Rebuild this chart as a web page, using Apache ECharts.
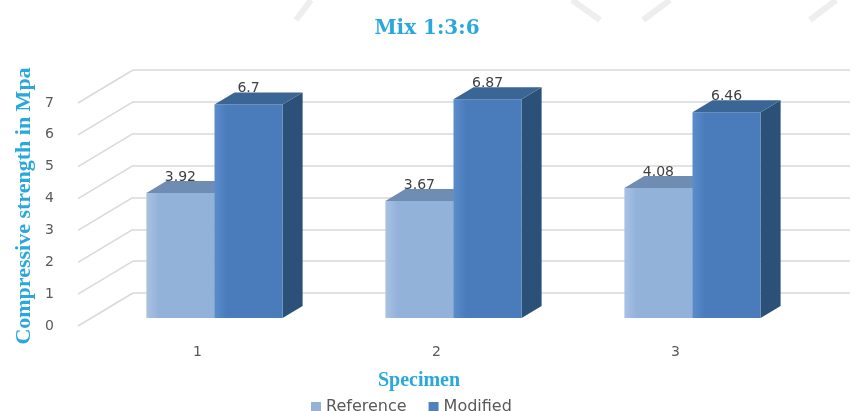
<!DOCTYPE html>
<html><head><meta charset="utf-8">
<script src="https://cdn.jsdelivr.net/npm/echarts@6/dist/echarts.min.js"></script>
<style>html,body{margin:0;padding:0;background:#fff}#c{width:854px;height:411px}</style>
</head><body><div id="c"></div>
<script>
// ---- data ----
const categories = ['1', '2', '3'];
const referenceValues = [3.92, 3.67, 4.08];
const modifiedValues = [6.7, 6.87, 6.46];
const yTicks = [0, 1, 2, 3, 4, 5, 6, 7];
const seriesNames = ['Reference', 'Modified'];
const titleText = 'Mix 1:3:6';
const yTitle = 'Compressive strength in Mpa';
const xTitle = 'Specimen';

// ---- styling ----
const WALL_DX = 55, WALL_DY = -33;
const BAR_DX = 20, BAR_DY = -12;
const CYAN = '#2aa8de';
const GRID_COLOR = '#d9d9d9';
const faceStyles = [
  { front: ['#a9c2e3', '#93b2da'], top: '#6f8cb3', side: '#5d7ca5', legend: '#95b3d7' },
  { front: ['#5b8dcc', '#4a7cbc'], top: '#3a6594', side: '#2c5178', legend: '#4f81bd' }
];

function barRenderer(si) {
  return function (params, api) {
    const cat = api.value(0), v = api.value(1);
    const base = api.coord([cat, 0]);
    const top = api.coord([cat, v]);
    const band = api.size([1, 0])[0];
    const w = band * 0.285;
    const x0 = base[0] - w + si * w;
    const x1 = x0 + w;
    const yb = base[1], yt = top[1];
    const fs = faceStyles[si];
    return {
      type: 'group',
      children: [
        { type: 'polygon', shape: { points: [[x1, yt], [x1 + BAR_DX, yt + BAR_DY], [x1 + BAR_DX, yb + BAR_DY], [x1, yb]] },
          style: { fill: fs.side } },
        { type: 'rect', shape: { x: x0, y: yt, width: w, height: yb - yt },
          style: { fill: new echarts.graphic.LinearGradient(0, 0, 1, 0, [
            { offset: 0, color: fs.front[0] }, { offset: 0.18, color: fs.front[1] }, { offset: 1, color: fs.front[1] }]) } },
        { type: 'polygon', shape: { points: [[x0, yt], [x1, yt], [x1 + BAR_DX, yt + BAR_DY], [x0 + BAR_DX, yt + BAR_DY]] },
          style: { fill: fs.top } },
        { type: 'text', x: (x0 + x1) / 2, y: yt + BAR_DY + 3,
          style: { text: String(v), align: 'center', verticalAlign: 'bottom',
                   fill: '#404040', font: '14px "DejaVu Sans"' } }
      ]
    };
  };
}

function wallRenderer(params, api) {
  const v = api.value(1);
  const p = api.coord([0, v]);
  return {
    type: 'line',
    shape: { x1: p[0], y1: p[1], x2: p[0] - WALL_DX, y2: p[1] - WALL_DY },
    style: { stroke: GRID_COLOR, lineWidth: 1.5 }
  };
}

const chart = echarts.init(document.getElementById('c'));
chart.setOption({
  backgroundColor: '#ffffff',
  animation: false,
  title: {
    text: titleText, left: 'center', top: 19, padding: 0,
    textStyle: { fontFamily: 'DejaVu Serif', fontWeight: 'bold', fontSize: 20, color: CYAN }
  },
  legend: {
    data: seriesNames, left: 306, top: 394, itemWidth: 10, itemHeight: 10, itemGap: 22, icon: 'rect',
    textStyle: { fontFamily: 'DejaVu Sans', fontSize: 16, color: '#595959' }
  },
  grid: [
    { left: 78, right: 59, top: 103, bottom: 85 },   // front plane (axis labels)
    { left: 133, right: 4, top: 70, bottom: 118 },   // back wall
    { left: 95, right: 42, top: 95, bottom: 93 }     // bar plane
  ],
  xAxis: [
    { gridIndex: 0, type: 'category', data: categories, axisLine: { show: false }, axisTick: { show: false },
      axisLabel: { margin: 19, fontFamily: 'DejaVu Sans', fontSize: 14, color: '#595959' } },
    { gridIndex: 1, type: 'value', min: 0, max: 1, show: false },
    { gridIndex: 2, type: 'category', data: categories, show: false }
  ],
  yAxis: [
    { gridIndex: 0, type: 'value', min: 0, max: 7, interval: 1, splitLine: { show: false },
      axisLine: { show: false }, axisTick: { show: false },
      axisLabel: { margin: 24, fontFamily: 'DejaVu Sans', fontSize: 14, color: '#595959' } },
    { gridIndex: 1, type: 'value', min: 0, max: 7, interval: 1, axisLabel: { show: false },
      axisLine: { show: false }, axisTick: { show: false },
      splitLine: { show: true, lineStyle: { color: GRID_COLOR, width: 1.5 } } },
    { gridIndex: 2, type: 'value', min: 0, max: 7, interval: 1, show: false }
  ],
  graphic: [
    { type: 'text', x: 24, y: 206, rotation: Math.PI / 2,
      style: { text: yTitle, align: 'center', verticalAlign: 'middle', fill: CYAN,
               font: 'bold 22px "Liberation Serif"' } },
    { type: 'text', x: 419, y: 381,
      style: { text: xTitle, align: 'center', verticalAlign: 'middle', fill: CYAN,
               font: 'bold 20px "Liberation Serif"' } },
    { type: 'line', shape: { x1: 296, y1: 20, x2: 311, y2: 0 }, style: { stroke: '#eeeeee', lineWidth: 6 } },
    { type: 'line', shape: { x1: 572, y1: 0, x2: 600, y2: 20 }, style: { stroke: '#eeeeee', lineWidth: 6 } },
    { type: 'line', shape: { x1: 643, y1: 20, x2: 670, y2: 0 }, style: { stroke: '#eeeeee', lineWidth: 6 } },
    { type: 'line', shape: { x1: 810, y1: 20, x2: 836, y2: 0 }, style: { stroke: '#eeeeee', lineWidth: 6 } }
  ],
  series: [
    { type: 'custom', name: 'wall', xAxisIndex: 1, yAxisIndex: 1, silent: true,
      renderItem: wallRenderer, data: yTicks.map(v => [0, v]), z: 1 },
    { type: 'custom', name: seriesNames[0], xAxisIndex: 2, yAxisIndex: 2, z: 3,
      itemStyle: { color: faceStyles[0].legend },
      renderItem: barRenderer(0), data: referenceValues.map((v, i) => [i, v]) },
    { type: 'custom', name: seriesNames[1], xAxisIndex: 2, yAxisIndex: 2, z: 4,
      itemStyle: { color: faceStyles[1].legend },
      renderItem: barRenderer(1), data: modifiedValues.map((v, i) => [i, v]) }
  ]
});
</script>
</body></html>
